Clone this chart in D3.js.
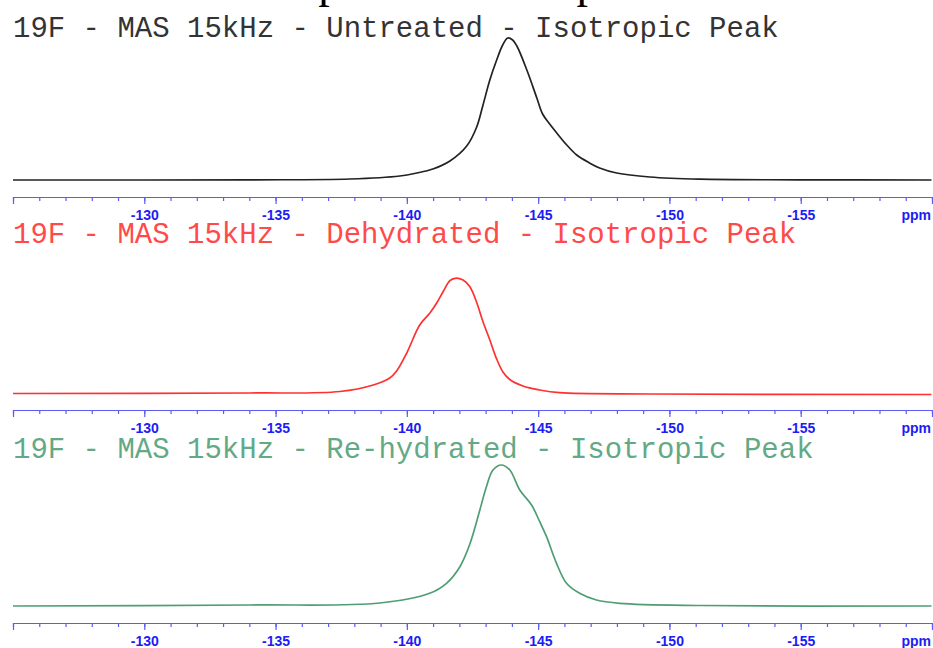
<!DOCTYPE html>
<html>
<head>
<meta charset="utf-8">
<script src="https://cdn.jsdelivr.net/npm/d3@7"></script>
<style>
  body { margin: 0; background: #fff; }
  svg { display: block; }
</style>
</head>
<body>
<svg id="chart" width="933" height="648"></svg>
<script>
// chemical shift (ppm) and intensity (a.u.)
var untreatedPpm = [-125, -134.02, -137.83, -139.73, -140.38, -140.99, -141.64, -142.28, -142.66, -142.89, -143.16, -143.42, -143.65, -143.84, -144.03, -144.19, -144.57, -144.95, -145.17, -145.44, -145.71, -146.09, -146.47, -146.96, -147.34, -147.99, -149.25, -151.15, -154.96, -159.98];
var untreatedInt = [0, 0.2, 1, 4, 7, 11, 19, 34, 53, 74, 100, 120, 135, 142, 140, 134, 110, 82, 66, 56, 47, 35, 25, 17, 12, 7, 3, 0.8, 0.2, 0];

var dehydratedPpm = [-125, -134.02, -137.45, -138.72, -139.35, -139.61, -139.99, -140.49, -140.87, -141.13, -141.38, -141.64, -141.83, -142.14, -142.40, -142.65, -142.90, -143.16, -143.41, -143.66, -143.92, -144.42, -145.06, -145.82, -149.25, -159.98];
var dehydratedInt = [1.5, 2, 3.5, 10, 17, 24, 41.7, 70, 81.7, 91.7, 103.3, 114.3, 116.7, 115, 108.3, 93.3, 73.3, 55, 36.7, 23, 15.5, 9, 5, 2.3, 1, 0.5];

var rehydratedPpm = [-125, -134.02, -138.97, -140.87, -141.51, -142.02, -142.40, -142.78, -143.03, -143.28, -143.60, -143.92, -144.30, -144.75, -145.06, -145.32, -145.70, -146.08, -146.58, -147.22, -148.11, -151.15, -159.98];
var rehydratedInt = [0, 1, 3, 12.7, 22.7, 39.3, 62, 96, 119.3, 136, 141, 136, 116, 101, 84.3, 69.3, 42.7, 22.7, 12.7, 6, 2.7, 0.5, 0];

var titles = ["19F - MAS 15kHz - Untreated - Isotropic Peak",
              "19F - MAS 15kHz - Dehydrated - Isotropic Peak",
              "19F - MAS 15kHz - Re-hydrated - Isotropic Peak"];
var majorTicks = [-130, -135, -140, -145, -150, -155];
var endTicks = [-125, -160];
var minorTicks = d3.range(-125, -161, -1);

var svg = d3.select("#chart");

// page title, mostly cut off at the top edge
svg.append("text")
  .attr("x", 211)
  .attr("y", -3)
  .style("font-family", "'Liberation Serif', 'Times New Roman', serif")
  .style("font-size", "46px")
  .style("fill", "#000")
  .text("Isotropic Peak Comparison");

var x = d3.scaleLinear().domain([-125, -160]).range([13, 932]);

var panels = [
  {title: titles[0], ppm: untreatedPpm, val: untreatedInt, textColor: "#333333", lineColor: "#222222", axisY: 197, baseY: 180, titleY: 37},
  {title: titles[1], ppm: dehydratedPpm, val: dehydratedInt, textColor: "#ff4a4a", lineColor: "#ff3030", axisY: 410, baseY: 395, titleY: 243},
  {title: titles[2], ppm: rehydratedPpm, val: rehydratedInt, textColor: "#64a985", lineColor: "#4f9e72", axisY: 623, baseY: 606, titleY: 458}
];

panels.forEach(function(p) {
  var g = svg.append("g");

  var y = d3.scaleLinear().domain([0, 150]).range([p.baseY, p.baseY - 150]);

  var pts = p.ppm.map(function(d, i) { return {ppm: d, v: p.val[i]}; });

  var line = d3.line()
    .x(function(d) { return x(d.ppm); })
    .y(function(d) { return y(d.v); })
    .curve(d3.curveCatmullRom.alpha(0.5));

  g.append("path")
    .datum(pts)
    .attr("fill", "none")
    .attr("stroke", p.lineColor)
    .attr("stroke-width", 1.7)
    .attr("d", line);

  // minor ticks every 1 ppm
  var minorAxis = d3.axisBottom(x)
    .tickValues(minorTicks)
    .tickSize(4)
    .tickSizeOuter(0)
    .tickFormat("");

  g.append("g")
    .attr("class", "minor")
    .attr("transform", "translate(0," + p.axisY + ")")
    .call(minorAxis);

  var majorAxis = d3.axisBottom(x)
    .tickValues(majorTicks.concat(endTicks))
    .tickSize(7)
    .tickSizeOuter(0)
    .tickPadding(6)
    .tickFormat(function(d) { return endTicks.indexOf(d) >= 0 ? "" : d; });

  var ax = g.append("g")
    .attr("class", "major")
    .attr("transform", "translate(0," + p.axisY + ")")
    .call(majorAxis);

  g.selectAll(".domain, .tick line").attr("stroke", "#5c5cf2").attr("stroke-width", 1.2);
  ax.selectAll("text")
    .style("font-family", "'Liberation Sans', Arial, sans-serif")
    .style("font-weight", "bold")
    .style("font-size", "14px")
    .attr("fill", "#1c1cf5");

  g.append("text")
    .attr("x", 931)
    .attr("y", p.axisY + 23)
    .attr("text-anchor", "end")
    .style("font-family", "'Liberation Sans', Arial, sans-serif")
    .style("font-weight", "bold")
    .style("font-size", "14px")
    .style("fill", "#1c1cf5")
    .text("ppm");

  g.append("text")
    .attr("x", 13)
    .attr("y", p.titleY)
    .style("font-family", "'Liberation Mono', 'Courier New', monospace")
    .style("font-size", "29px")
    .style("fill", p.textColor)
    .text(p.title);
});
</script>
</body>
</html>
